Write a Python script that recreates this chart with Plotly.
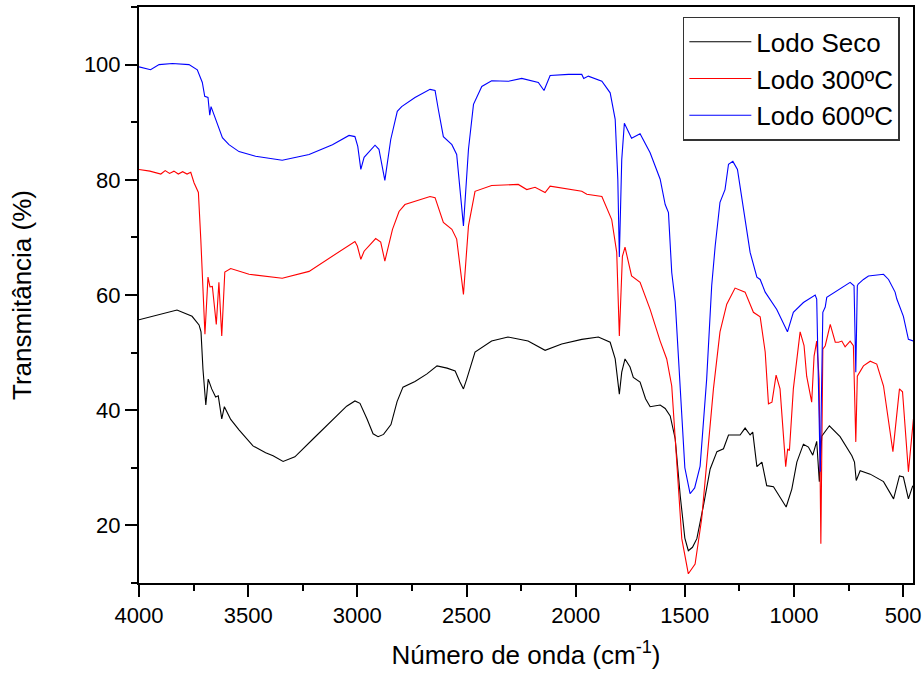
import plotly.graph_objects as go

# Lodo Seco (black)
wn_seco = [4000, 3900, 3826, 3757, 3725, 3716, 3707, 3694, 3683, 3667, 3649, 3637, 3621, 3609,
           3580, 3542, 3478, 3420, 3386, 3340, 3286, 3203, 3111, 3049, 3011, 2988, 2956, 2928,
           2905, 2880, 2846, 2818, 2791, 2736, 2681, 2635, 2589, 2552, 2530, 2514, 2499, 2461,
           2385, 2310, 2218, 2140, 2064, 1972, 1896, 1842, 1819, 1800, 1789, 1774, 1751, 1736,
           1705, 1680, 1659, 1613, 1590, 1567, 1544, 1521, 1500, 1484, 1465, 1445, 1415, 1384,
           1353, 1323, 1300, 1247, 1224, 1201, 1189, 1170, 1147, 1125, 1094, 1064, 1036, 1010,
           987, 957, 934, 914, 896, 884, 873, 838, 789, 735, 723, 715, 697, 651, 590, 544, 517,
           499, 476, 456]
t_seco = [55.7, 56.6, 57.4, 56.3, 54.8, 53.6, 47.1, 40.9, 45.4, 43.7, 42.3, 42.5, 38.5, 40.6,
          38.4, 36.6, 33.8, 32.6, 32.1, 31.1, 31.9, 35.0, 38.5, 40.7, 41.6, 41.2, 38.5, 35.9,
          35.4, 35.8, 37.5, 41.5, 44.0, 45.0, 46.3, 47.7, 47.3, 46.8, 44.9, 43.7, 45.4, 50.1,
          52.0, 52.7, 52.0, 50.4, 51.5, 52.3, 52.7, 51.8, 48.9, 42.8, 46.6, 48.9, 47.5, 45.7,
          44.9, 42.0, 40.6, 40.9, 40.3, 39.0, 35.0, 25.1, 17.8, 15.6, 16.2, 17.7, 23.4, 29.8,
          32.8, 33.3, 35.7, 35.7, 36.9, 35.7, 36.2, 30.2, 31.0, 26.9, 26.7, 25.0, 23.2, 26.3,
          31.0, 34.1, 33.6, 32.2, 34.6, 27.6, 35.5, 37.3, 35.4, 32.1, 31.0, 27.8, 29.5, 28.9,
          27.6, 24.6, 28.6, 28.4, 24.6, 26.9]

# Lodo 300ºC (red)
wn_300 = [4000, 3950, 3900, 3880, 3860, 3840, 3820, 3800, 3780, 3763, 3748, 3728, 3717, 3698,
          3684, 3675, 3664, 3646, 3634, 3621, 3607, 3580, 3496, 3344, 3221, 3114, 3011, 3000,
          2984, 2969, 2916, 2893, 2874, 2839, 2809, 2782, 2667, 2644, 2606, 2567, 2545, 2514,
          2491, 2461, 2385, 2263, 2224, 2186, 2140, 2117, 1972, 1949, 1880, 1835, 1812, 1800,
          1786, 1774, 1744, 1705, 1659, 1613, 1583, 1560, 1537, 1514, 1484, 1453, 1423, 1400,
          1369, 1339, 1308, 1270, 1224, 1186, 1155, 1132, 1117, 1101, 1082, 1064, 1049, 1038,
          1029, 1021, 1003, 972, 954, 942, 919, 908, 896, 885, 877, 868, 857, 834, 811, 796,
          781, 766, 743, 728, 717, 710, 682, 651, 621, 590, 547, 517, 503, 476, 453]
t_300 = [81.8, 81.5, 81.0, 81.6, 81.1, 81.5, 81.0, 81.4, 81.0, 81.3, 79.5, 77.8, 69.7, 53.2,
         63.1, 61.4, 61.5, 54.9, 62.2, 52.9, 64.0, 64.6, 63.6, 62.9, 64.1, 66.7, 69.3, 68.5,
         66.2, 67.6, 69.8, 69.2, 65.9, 71.4, 74.5, 75.7, 77.1, 76.9, 72.6, 71.4, 69.7, 60.1,
         72.0, 78.0, 79.0, 79.2, 78.3, 78.7, 77.8, 78.9, 78.0, 77.5, 77.1, 73.1, 67.4, 52.9,
         66.7, 68.3, 63.3, 62.2, 57.5, 52.0, 48.9, 44.2, 31.0, 17.7, 11.6, 13.3, 21.1, 30.3,
         43.7, 53.6, 58.4, 61.2, 60.5, 57.0, 56.2, 50.1, 41.1, 41.4, 46.1, 43.7, 35.5, 30.2,
         33.3, 33.0, 43.7, 53.6, 51.2, 45.9, 41.4, 49.4, 52.0, 45.4, 16.8, 50.6, 51.2, 54.9,
         51.8, 51.8, 52.0, 51.0, 52.0, 51.2, 34.5, 45.9, 47.7, 48.5, 48.0, 44.2, 32.8, 43.7,
         43.2, 29.3, 38.5]

# Lodo 600ºC (blue)
wn_600 = [4000, 3947, 3908, 3847, 3771, 3733, 3710, 3699, 3684, 3676, 3670, 3656, 3634, 3618,
          3588, 3542, 3466, 3344, 3221, 3114, 3038, 3011, 2998, 2984, 2969, 2919, 2901, 2874,
          2847, 2817, 2797, 2736, 2667, 2644, 2629, 2606, 2567, 2545, 2514, 2491, 2468, 2430,
          2385, 2308, 2247, 2171, 2145, 2117, 2033, 1972, 1963, 1942, 1880, 1842, 1819, 1807,
          1800, 1789, 1777, 1744, 1705, 1659, 1613, 1590, 1575, 1560, 1544, 1522, 1500, 1476,
          1455, 1430, 1400, 1377, 1361, 1339, 1316, 1300, 1280, 1259, 1231, 1201, 1170, 1155,
          1132, 1079, 1030, 1003, 957, 903, 896, 880, 868, 857, 850, 789, 743, 725, 717, 710,
          706, 682, 659, 590, 567, 537, 529, 499, 476, 453]
t_600 = [99.6, 99.1, 100.0, 100.2, 100.0, 99.1, 96.9, 94.5, 94.3, 91.2, 92.7, 91.3, 89.1, 87.3,
         86.1, 84.9, 84.1, 83.4, 84.4, 86.1, 87.7, 87.5, 85.8, 81.8, 83.9, 86.0, 85.3, 79.9,
         87.0, 91.9, 92.7, 94.3, 95.7, 95.5, 92.2, 87.5, 86.1, 84.4, 72.0, 85.3, 93.1, 96.2,
         97.2, 97.1, 97.6, 96.9, 95.5, 98.1, 98.3, 98.3, 97.6, 98.0, 97.1, 95.1, 90.5, 80.1,
         66.6, 83.5, 89.8, 87.2, 88.0, 84.7, 80.1, 75.7, 74.3, 63.9, 58.8, 45.4, 30.0, 25.5,
         26.5, 30.3, 45.4, 61.6, 68.5, 76.1, 78.3, 82.7, 83.2, 81.8, 74.9, 67.4, 63.1, 62.7,
         60.5, 57.5, 53.6, 57.0, 58.7, 60.0, 59.3, 29.3, 57.0, 57.9, 59.6, 61.0, 62.2, 61.6,
         46.6, 61.6, 61.9, 62.7, 63.3, 63.6, 62.7, 60.5, 59.3, 56.3, 52.3, 52.0]

series_names = ["Lodo Seco", "Lodo 300ºC", "Lodo 600ºC"]
series_colors = ["#000000", "#ff0000", "#0000ff"]

x_ticks = [4000, 3500, 3000, 2500, 2000, 1500, 1000, 500]
y_ticks = [20, 40, 60, 80, 100]

fig = go.Figure()
for name, color, xs, ys in zip(series_names, series_colors,
                               [wn_seco, wn_300, wn_600], [t_seco, t_300, t_600]):
    fig.add_trace(go.Scatter(x=xs, y=ys, mode="lines", name=name,
                             line=dict(color=color, width=1.1)))

font_family = "Liberation Sans, Arial, sans-serif"
fig.update_layout(
    width=924, height=676,
    margin=dict(l=139, r=11, t=7, b=93),
    plot_bgcolor="white", paper_bgcolor="white",
    font=dict(family=font_family, color="black"),
    legend=dict(x=0.983, y=0.983, xanchor="right", yanchor="top",
                bordercolor="#333333", borderwidth=1.5, bgcolor="white",
                font=dict(size=26, family=font_family), tracegroupgap=0,
                itemwidth=62),
    showlegend=True,
)
fig.update_xaxes(
    range=[4000, 455], tickvals=x_ticks, ticktext=[str(v) for v in x_ticks],
    ticks="outside", ticklen=12, tickwidth=2, tickcolor="black",
    minor=dict(dtick=250, tick0=0, ticks="outside", ticklen=6, tickwidth=2, tickcolor="black"),
    showline=True, linewidth=2, linecolor="black", mirror=True,
    showgrid=False, zeroline=False, automargin=False,
    tickfont=dict(size=22),
    title=dict(text="Número de onda (cm<sup>-1</sup>)", font=dict(size=26), standoff=18),
)
fig.update_yaxes(
    range=[10, 110], tickvals=y_ticks, ticktext=[str(v) for v in y_ticks],
    ticks="outside", ticklen=12, tickwidth=2, tickcolor="black",
    minor=dict(dtick=10, tick0=0, ticks="outside", ticklen=6, tickwidth=2, tickcolor="black"),
    showline=True, linewidth=2, linecolor="black", mirror=True,
    showgrid=False, zeroline=False, automargin=False,
    tickfont=dict(size=22),
    title=dict(text="Transmitância (%)", font=dict(size=26), standoff=45),
)

fig.write_html("out.html", config={"displayModeBar": False},
               post_script="document.body.style.margin='0px';document.body.style.overflow='hidden';")
